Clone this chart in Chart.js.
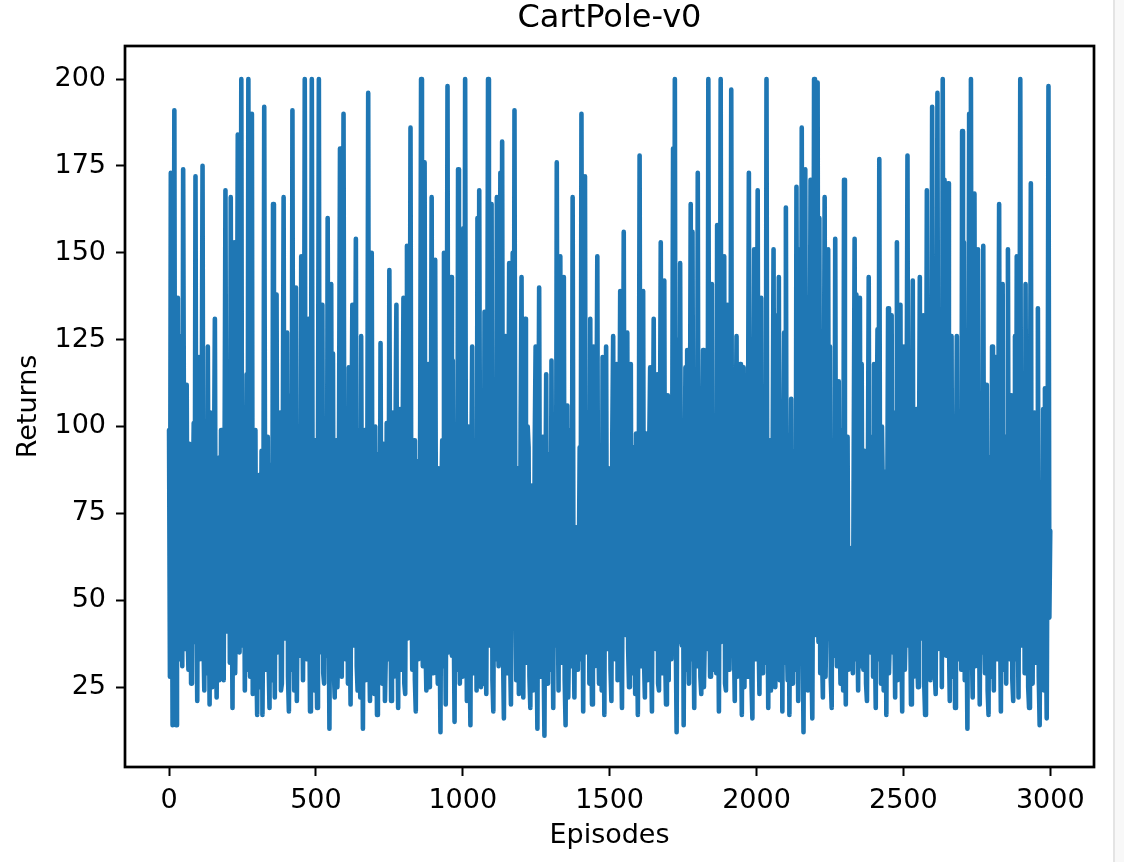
<!DOCTYPE html>
<html>
<head>
<meta charset="utf-8">
<title>CartPole-v0</title>
<script src="https://cdn.jsdelivr.net/npm/chart.js@4.4.1/dist/chart.umd.min.js"></script>
<style>
    html, body { margin: 0; padding: 0; background: #fff; }
    #wrap { position: relative; width: 1124px; height: 862px; overflow: hidden; }
    #edge { position: absolute; left: 1113px; top: 0; width: 2px; height: 862px; background: #e4e4e4; }
    #side { position: absolute; left: 1115px; top: 0; width: 9px; height: 862px; background: #f8f8f8; }
</style>
</head>
<body>
<div id="wrap">
    <canvas id="returns_chart" width="1124" height="862"></canvas>
    <div id="edge"></div>
    <div id="side"></div>
</div>
<script>
// one sample kept every 3 episodes
const EPISODE_STEP = 3;

const returns = [
    99, 28, 173, 96, 14, 61, 191, 45, 14, 83, 137, 52, 33, 70, 126, 31, 174, 88, 36, 64,
    112, 41, 30, 95, 88, 26, 47, 79, 101, 38, 172, 55, 21, 98, 120, 33, 58, 92, 175, 40,
    24, 68, 97, 29, 123, 57, 20, 104, 78, 25, 38, 87, 131, 46, 22, 73, 91, 27, 44, 99,
    85, 34, 27, 90, 168, 48, 41, 76, 108, 32, 166, 63, 19, 84, 153, 29, 52, 107, 184, 43,
    35, 94, 200, 37, 62, 81, 24, 66, 115, 30, 200, 58, 28, 86, 190, 23, 47, 82, 99, 36,
    17, 60, 86, 25, 42, 93, 17, 54, 192, 71, 30, 45, 97, 32, 19, 89, 72, 27, 164, 50,
    22, 79, 138, 35, 45, 92, 104, 24, 26, 87, 166, 41, 39, 95, 127, 28, 18, 66, 109, 30,
    191, 62, 24, 83, 140, 21, 56, 100, 92, 34, 149, 58, 27, 77, 200, 44, 33, 90, 131, 52,
    18, 87, 200, 63, 38, 24, 96, 42, 19, 91, 200, 35, 49, 80, 135, 29, 26, 71, 102, 34,
    160, 55, 13, 86, 141, 39, 121, 30, 22, 74, 96, 25, 36, 105, 180, 48, 28, 94, 190, 61,
    33, 77, 84, 26, 117, 45, 20, 93, 135, 37, 55, 88, 154, 31, 24, 99, 73, 22, 126, 56,
    13, 68, 99, 27, 43, 85, 196, 40, 21, 79, 150, 34, 62, 23, 100, 53, 17, 88, 92, 30,
    124, 47, 26, 95, 87, 21, 35, 101, 78, 33, 145, 64, 21, 81, 104, 28, 40, 97, 135, 46,
    19, 84, 105, 30, 52, 89, 137, 26, 23, 93, 152, 39, 41, 75, 186, 57, 30, 66, 96, 27,
    18, 72, 90, 33, 45, 102, 200, 49, 31, 85, 176, 38, 24, 90, 118, 25, 58, 83, 166, 36,
    29, 91, 148, 51, 37, 26, 88, 43, 12, 78, 96, 31, 150, 62, 20, 84, 198, 35, 43, 97,
    143, 34, 119, 48, 15, 94, 79, 30, 174, 55, 26, 87, 100, 28, 157, 40, 200, 61, 21, 76,
    100, 37, 14, 82, 123, 29, 44, 96, 89, 24, 160, 47, 168, 66, 25, 99, 62, 26, 133, 58,
    23, 90, 200, 45, 37, 86, 164, 27, 18, 74, 96, 33, 166, 52, 31, 98, 173, 41, 182, 35,
    16, 81, 126, 29, 48, 92, 147, 34, 20, 85, 150, 44, 191, 59, 27, 63, 88, 23, 36, 101,
    143, 50, 22, 87, 131, 32, 46, 100, 94, 28, 19, 83, 72, 24, 38, 95, 123, 42, 13, 78,
    140, 45, 28, 81, 97, 36, 11, 69, 115, 26, 35, 92, 80, 30, 119, 49, 19, 88, 102, 37,
    176, 56, 24, 93, 149, 40, 32, 85, 143, 27, 14, 76, 106, 22, 41, 99, 88, 31, 166, 48,
    22, 64, 71, 52, 30, 58, 94, 33, 190, 61, 18, 90, 172, 35, 44, 83, 104, 26, 131, 43,
    20, 86, 123, 31, 39, 95, 149, 42, 26, 80, 93, 24, 120, 57, 17, 91, 123, 36, 48, 88,
    74, 30, 21, 97, 126, 46, 33, 84, 118, 27, 52, 90, 139, 38, 19, 79, 156, 53, 40, 92,
    127, 36, 25, 88, 118, 29, 38, 94, 85, 23, 98, 45, 17, 70, 178, 49, 31, 86, 139, 33,
    22, 79, 98, 27, 45, 96, 117, 37, 18, 83, 131, 42, 36, 99, 115, 26, 24, 87, 153, 50,
    29, 90, 142, 34, 20, 82, 109, 27, 100, 46, 33, 94, 180, 59, 200, 41, 12, 73, 125, 38,
    147, 52, 37, 91, 14, 67, 117, 30, 122, 40, 26, 85, 164, 33, 156, 48, 19, 77, 88, 31,
    173, 44, 99, 28, 23, 86, 122, 25, 40, 93, 112, 36, 200, 62, 28, 95, 141, 30, 35, 82,
    99, 29, 158, 57, 18, 84, 200, 38, 42, 97, 149, 26, 24, 90, 135, 45, 30, 81, 197, 34,
    84, 39, 21, 92, 126, 28, 36, 88, 118, 43, 17, 73, 117, 25, 101, 50, 28, 94, 173, 37,
    84, 26, 16, 89, 151, 33, 44, 98, 168, 40, 23, 86, 137, 29, 38, 77, 90, 32, 200, 55,
    19, 83, 96, 24, 30, 91, 151, 36, 25, 78, 132, 48, 143, 27, 47, 99, 18, 85, 127, 32,
    163, 41, 27, 95, 17, 63, 108, 26, 42, 88, 93, 30, 169, 53, 21, 82, 151, 37, 186, 44,
    12, 86, 174, 50, 137, 24, 33, 96, 171, 35, 16, 79, 200, 46, 40, 92, 199, 38, 160, 29,
    116, 35, 22, 90, 166, 28, 45, 84, 151, 39, 123, 27, 19, 96, 89, 34, 154, 52, 31, 87,
    113, 41, 26, 99, 84, 24, 171, 48, 20, 88, 97, 30, 38, 52, 65, 40, 29, 91, 154, 33,
    138, 47, 24, 85, 137, 31, 118, 42, 30, 93, 77, 26, 21, 80, 143, 36, 35, 97, 89, 28,
    118, 39, 19, 94, 128, 33, 177, 58, 26, 100, 81, 24, 43, 87, 17, 70, 134, 29, 40, 90,
    132, 35, 104, 48, 22, 86, 153, 27, 31, 95, 135, 41, 18, 81, 123, 30, 44, 99, 178, 37,
    113, 46, 20, 89, 142, 28, 37, 93, 105, 34, 25, 84, 143, 39, 48, 101, 132, 26, 17, 80,
    168, 32, 118, 55, 27, 88, 192, 43, 104, 29, 23, 95, 196, 36, 39, 74, 86, 25, 200, 47,
    171, 59, 34, 91, 170, 40, 21, 85, 126, 28, 45, 98, 19, 83, 126, 37, 33, 89, 97, 30,
    185, 42, 153, 27, 104, 46, 13, 79, 190, 57, 200, 38, 22, 94, 167, 31, 36, 86, 151, 49,
    20, 73, 88, 35, 152, 48, 29, 96, 112, 24, 17, 91, 64, 28, 123, 44, 24, 87, 120, 33,
    38, 92, 164, 45, 18, 81, 141, 30, 46, 97, 26, 75, 151, 40, 33, 88, 109, 27, 21, 84,
    126, 33, 149, 51, 22, 90, 200, 44, 37, 86, 115, 29, 141, 38, 112, 25, 19, 95, 170, 41,
    26, 88, 104, 32, 40, 93, 134, 28, 14, 76, 84, 35, 105, 24, 111, 46, 16, 82, 198, 45,
    70
];

const xTicks = [0, 500, 1000, 1500, 2000, 2500, 3000];
const yTicks = [25, 50, 75, 100, 125, 150, 175, 200];

const episodes = returns.map((_, i) => i * EPISODE_STEP);
const points = episodes.map((ep, i) => ({ x: ep, y: returns[i] }));

Chart.defaults.font.family = "'DejaVu Sans', sans-serif";
Chart.defaults.color = '#000';

// matplotlib-style box around the axes
const frame = {
    id: 'frame',
    afterDatasetsDraw(chart) {
        const { ctx, chartArea: a } = chart;
        ctx.save();
        ctx.strokeStyle = '#000';
        ctx.lineWidth = 2.7;
        ctx.strokeRect(a.left, a.top, a.right - a.left, a.bottom - a.top);
        ctx.restore();
    }
};

const canvasBg = {
    id: 'canvasBg',
    beforeDraw(chart) {
        const ctx = chart.ctx;
        ctx.save();
        ctx.fillStyle = '#fff';
        ctx.fillRect(0, 0, chart.width, chart.height);
        ctx.restore();
    }
};

new Chart(document.getElementById('returns_chart'), {
    type: 'line',
    data: {
        datasets: [{
            data: points,
            borderColor: '#1f77b4',
            borderWidth: 4.6,
            borderJoinStyle: 'round',
            borderCapStyle: 'round',
            pointRadius: 0,
            tension: 0,
            fill: false
        }]
    },
    options: {
        responsive: false,
        animation: false,
        devicePixelRatio: 1,
        parsing: false,
        normalized: true,
        layout: { padding: { left: 0, right: 30, top: 0, bottom: 0 } },
        plugins: {
            legend: { display: false },
            tooltip: { enabled: false },
            title: {
                display: true,
                text: 'CartPole-v0',
                fullSize: false,
                font: { size: 32, weight: 'normal', lineHeight: 1 },
                color: '#000',
                padding: { top: 3, bottom: 11 }
            }
        },
        scales: {
            x: {
                type: 'linear',
                min: -150,
                max: 3149,
                afterBuildTicks: (axis) => { axis.ticks = xTicks.map(v => ({ value: v })); },
                afterFit: (axis) => { axis.height = 95; },
                grid: { drawOnChartArea: false, drawTicks: true, tickLength: 9, tickWidth: 2, tickColor: '#000' },
                border: { display: false },
                ticks: { font: { size: 27 }, color: '#000', padding: 9, maxRotation: 0, autoSkip: false, callback: v => String(v) },
                title: { display: true, text: 'Episodes', font: { size: 27, lineHeight: 1 }, color: '#000', padding: { top: 11, bottom: 13 } }
            },
            y: {
                type: 'linear',
                min: 2,
                max: 209.5,
                afterBuildTicks: (axis) => { axis.ticks = yTicks.map(v => ({ value: v })); },
                afterFit: (axis) => { axis.width = 125; },
                grid: { drawOnChartArea: false, drawTicks: true, tickLength: 9, tickWidth: 2, tickColor: '#000' },
                border: { display: false },
                ticks: { font: { size: 27 }, color: '#000', padding: 10, autoSkip: false, callback: v => String(v) },
                title: { display: true, text: 'Returns', font: { size: 27, lineHeight: 1 }, color: '#000', padding: { top: 15, bottom: 0 } }
            }
        }
    },
    plugins: [canvasBg, frame]
});
</script>
</body>
</html>
